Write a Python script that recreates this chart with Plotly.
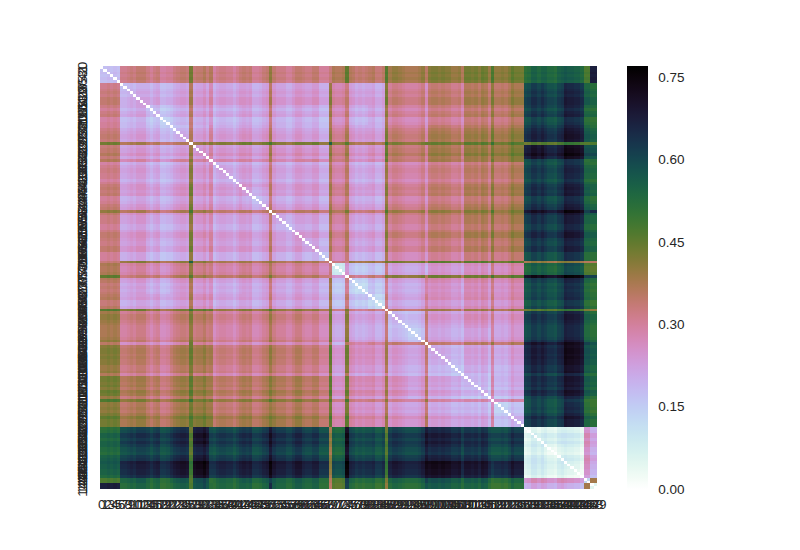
import numpy as np
import plotly.graph_objects as go

# sizes of the runs of rows/columns that look alike in the picture (sum = 150)
run_sizes = [6, 8, 7, 6, 1, 5, 1, 9, 8, 1, 9, 8, 1, 4, 1, 6, 5, 1, 6, 5, 1, 10, 1, 8, 1, 9, 6, 6, 6, 2, 2]

# estimated pairwise values, upper triangle, one list per run
r00 = [.17,.32,.32,.32,.43,.32,.37,.31,.32,.39,.32,.32,.33,.37,.45,.35,.35,.46,.38,.39,.35,.40,.36,.41,.47,.42,.54,.54,.55,.47,.67]
r01 = [.19,.21,.21,.37,.21,.29,.22,.22,.35,.23,.23,.40,.29,.33,.23,.22,.42,.31,.32,.26,.33,.29,.35,.41,.37,.62,.60,.65,.55,.53]
r02 = [.19,.20,.36,.21,.28,.21,.22,.34,.22,.21,.39,.28,.34,.22,.23,.40,.30,.31,.26,.32,.28,.34,.40,.36,.63,.61,.66,.54,.53]
r03 = [.18,.35,.20,.30,.22,.23,.35,.22,.21,.39,.30,.36,.24,.23,.41,.32,.33,.27,.35,.30,.36,.42,.38,.65,.63,.68,.56,.54]
r04 = [.00,.37,.43,.41,.42,.47,.41,.42,.55,.41,.46,.38,.38,.49,.41,.42,.44,.43,.40,.44,.50,.45,.46,.46,.49,.46,.47]
r05 = [.20,.28,.22,.22,.35,.23,.22,.38,.30,.36,.23,.24,.42,.32,.33,.28,.35,.29,.36,.41,.39,.68,.65,.70,.57,.56]
r06 = [.00,.29,.29,.38,.29,.30,.40,.34,.38,.28,.29,.46,.35,.36,.31,.38,.33,.38,.45,.41,.62,.60,.64,.52,.53]
r07 = [.21,.22,.33,.22,.22,.37,.29,.35,.22,.22,.39,.29,.30,.26,.31,.27,.33,.39,.35,.62,.60,.65,.54,.53]
r08 = [.20,.33,.22,.22,.37,.30,.35,.23,.22,.40,.30,.31,.26,.32,.28,.34,.40,.36,.63,.61,.66,.55,.53]
r09 = [.00,.33,.34,.40,.36,.42,.33,.33,.46,.37,.38,.30,.38,.33,.39,.46,.40,.70,.68,.73,.60,.64]
r10 = [.21,.22,.37,.30,.35,.23,.23,.40,.31,.32,.27,.33,.29,.35,.41,.37,.64,.62,.67,.55,.54]
r11 = [.20,.36,.29,.35,.22,.22,.39,.29,.30,.26,.31,.27,.33,.39,.35,.62,.60,.65,.54,.53]
r12 = [.00,.33,.32,.39,.39,.44,.42,.43,.37,.44,.39,.44,.47,.45,.40,.39,.40,.36,.35]
r13 = [.10,.25,.17,.18,.33,.22,.23,.19,.24,.21,.25,.33,.28,.56,.55,.59,.47,.46]
r14 = [.00,.32,.34,.43,.40,.42,.36,.42,.36,.42,.48,.44,.73,.71,.75,.62,.61]
r15 = [.15,.18,.32,.22,.23,.30,.26,.22,.27,.33,.28,.61,.60,.65,.54,.52]
r16 = [.14,.33,.22,.23,.31,.25,.22,.26,.33,.27,.60,.59,.64,.53,.51]
r17 = [.00,.34,.35,.38,.37,.30,.37,.41,.38,.46,.47,.49,.42,.40]
r18 = [.17,.19,.33,.22,.20,.24,.30,.24,.62,.61,.66,.54,.52]
r19 = [.18,.34,.22,.20,.23,.31,.25,.63,.62,.67,.55,.53]
r20 = [.00,.33,.30,.34,.40,.35,.70,.68,.72,.61,.58]
r21 = [.18,.16,.20,.28,.21,.66,.64,.70,.57,.55]
r22 = [.00,.17,.27,.20,.62,.60,.65,.53,.52]
r23 = [.16,.27,.19,.63,.62,.67,.55,.53]
r24 = [.00,.28,.60,.58,.62,.50,.49]
r25 = [.17,.62,.60,.66,.53,.51]
r26 = [.07,.08,.08,.27,.22]
r27 = [.05,.06,.26,.21]
r28 = [.04,.25,.19]
r29 = [.13,.38]
r30 = [.05]
triangle = [r00,r01,r02,r03,r04,r05,r06,r07,r08,r09,r10,r11,r12,r13,r14,r15,
            r16,r17,r18,r19,r20,r21,r22,r23,r24,r25,r26,r27,r28,r29,r30]

# lightness of each row/column relative to its run, in hundredths
stripes = [0, 0, 1, 0, 1, 0,
           -1, -1, 0, 1, 0, 2, 2, 2, 0, -2, 0, 1, -3, -3, -2, -2, 0, 1, 2, 2, 1, 0, 1, 2,
           2, 4, 1, -1, -2, 0, 1, 1, 0, 0, -2, 0, 2, 2, 1, 2, -2, -2, -1, 1, 2, 1, 2, 0,
           0, 0, -2, -2, 0, 2, 2, 1, 0, 0, 2, 2, -2, -2, -2, 0, 0, -1, -1, 0, 0, 1, 0, -2,
           -1, -2, -1, 0, 1, -2, -2, 0, 0, 0, 2, 2, 1, 0, -1, -2, -2, -2, -1, 1, 0, 1, 2,
           2, 1, 2, 1, 1, -1, -1, 0, 0, 2, 2, 1, 2, 0, 3, 2, -2, 0, -2, -2, -1, -2, 0, 3,
           1, 1, 1, -3, -2, 1, 1, -1, 1, 1, -1, -1, -2, 1, 2, 2, 1, 1, 0, 0, -2, 0, 0, 0, 0]

tick_labels = [str(i) for i in range(150)]
colorbar_ticks = [0.0, 0.15, 0.30, 0.45, 0.60, 0.75]

n_runs = len(run_sizes)
assert len(stripes) == 150, len(stripes)
blocks = np.zeros((n_runs, n_runs))
for i, row in enumerate(triangle):
    assert len(row) == n_runs - i, (i, len(row))
    for k, v in enumerate(row):
        blocks[i, i + k] = blocks[i + k, i] = v
z = np.repeat(np.repeat(blocks, run_sizes, axis=0), run_sizes, axis=1)
shade = np.array(stripes) / 100
z = np.clip(z + shade[:, None] + shade[None, :], 0.02, 0.77)
np.fill_diagonal(z, 0.0)


def cubehelix_r(n=256):
    scale = []
    for k in range(n):
        t = k / (n - 1)
        x = 1 - t
        phi = 2 * np.pi * (0.5 / 3 - 1.5 * x)
        a = x * (1 - x) / 2
        c, s = np.cos(phi), np.sin(phi)
        rgb = [x + a * (-0.14861 * c + 1.78277 * s),
               x + a * (-0.29227 * c - 0.90649 * s),
               x + a * (1.97294 * c)]
        rgb = [int(round(255 * min(1, max(0, v)))) for v in rgb]
        scale.append([t, f"rgb({rgb[0]},{rgb[1]},{rgb[2]})"])
    return scale


ink = "#262626"
fig = go.Figure(go.Heatmap(
    z=z,
    x=list(range(150)),
    y=list(range(150)),
    zmin=0,
    zmax=0.77,
    colorscale=cubehelix_r(),
    colorbar=dict(
        x=(627 - 100) / 497, xanchor="left", xpad=0, ypad=0,
        y=0.5, yanchor="middle", len=1, lenmode="fraction",
        thickness=21, thicknessmode="pixels", outlinewidth=0,
        tickmode="array", tickvals=colorbar_ticks,
        ticktext=[f"{v:.2f}" for v in colorbar_ticks],
        ticks="outside", ticklen=8, tickcolor="rgba(0,0,0,0)",
        tickfont=dict(family="Liberation Sans", size=13.5, color=ink),
    ),
))
fig.update_layout(
    width=800, height=550,
    margin=dict(l=92, r=211, t=58, b=69, autoexpand=False),
    paper_bgcolor="white", plot_bgcolor="white",
    font=dict(family="Liberation Sans", color=ink),
    xaxis=dict(
        tickmode="array", tickvals=list(range(150)), ticktext=tick_labels,
        tickangle=0, ticks="", showgrid=False, zeroline=False, showline=False,
        tickfont=dict(size=13.5, color=ink), automargin=False, ticklabelstandoff=5,
    ),
    yaxis=dict(
        autorange="reversed",
        tickmode="array", tickvals=list(range(150)), ticktext=tick_labels,
        tickangle=-90, ticks="", showgrid=False, zeroline=False, showline=False,
        tickfont=dict(size=13.5, color=ink), automargin=False, ticklabelstandoff=9,
    ),
)
fig.write_html("out.html")
